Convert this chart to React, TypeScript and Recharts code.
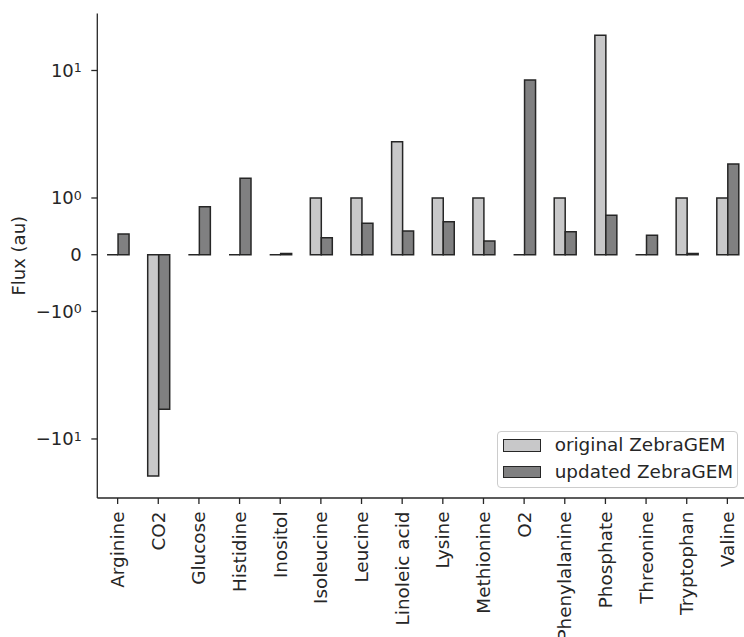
import React from 'react';
import { BarChart, Bar, XAxis, YAxis, Legend } from 'recharts';

const categories = ['Arginine', 'CO2', 'Glucose', 'Histidine', 'Inositol', 'Isoleucine', 'Leucine', 'Linoleic acid', 'Lysine', 'Methionine', 'O2', 'Phenylalanine', 'Phosphate', 'Threonine', 'Tryptophan', 'Valine'];
const originalFlux = [0, -19.5, 0, 0, 0, 1, 1, 2.76, 1, 1, 0, 1, 18.9, 0, 1, 1];
const updatedFlux = [0.365, -5.85, 0.846, 1.43, 0.02, 0.3, 0.553, 0.418, 0.58, 0.24, 8.42, 0.405, 0.694, 0.342, 0.02, 1.85];
const seriesNames = ['original ZebraGEM', 'updated ZebraGEM'];
const seriesColors = ['#c8c8c9', '#808081'];
const yTickValues = [-10, -1, 0, 1, 10];
const yTickBase = ['\u221210', '\u221210', '0', '10', '10'];
const yTickExp = ['1', '0', '', '0', '1'];

const FONT = '"DejaVu Sans", sans-serif';
const INK = '#262626';
const LIN = 0.445;
const FS = 18.4;

const symlog = (v: number) => {
  const a = Math.abs(v);
  const t = a <= 1 ? a * LIN : LIN + Math.log10(a);
  return Math.sign(v) * t;
};

const data = categories.map((name, i) => ({
  name,
  original: symlog(originalFlux[i]),
  updated: symlog(updatedFlux[i]),
}));
const yTicks = yTickValues.map(symlog);

const BarShape = (props: any) => {
  const { x, y, width, height, fill } = props;
  if (x == null || y == null) return null;
  let yy = y;
  let h = height || 0;
  if (h < 0) {
    yy = y + h;
    h = -h;
  }
  const d = `M${x},${yy}h${width}v${h}h${-width}Z`;
  return <path d={d} fill={fill} stroke={INK} strokeWidth={1.5} />;
};

const XTick = (props: any) => {
  const { x, y, payload } = props;
  return (
    <g transform={`translate(${x},${y})`}>
      <line x1={0} x2={0} y1={0} y2={6} stroke={INK} strokeWidth={1.3} />
      <text
        transform="rotate(-90)"
        x={-13.5}
        y={0}
        dy="0.35em"
        textAnchor="end"
        fontFamily={FONT}
        fontSize={FS}
        fill={INK}
      >
        {payload.value}
      </text>
    </g>
  );
};

const YTick = (props: any) => {
  const { x, y, payload } = props;
  let idx = 0;
  let best = Infinity;
  yTicks.forEach((t, i) => {
    const d = Math.abs(t - payload.value);
    if (d < best) {
      best = d;
      idx = i;
    }
  });
  const exp = yTickExp[idx];
  return (
    <g transform={`translate(${x},${y})`}>
      <line x1={-6} x2={0} y1={0} y2={0} stroke={INK} strokeWidth={1.3} />
      <text x={-15.5} y={0} dy="0.36em" textAnchor="end" fontFamily={FONT} fontSize={18} fill={INK}>
        {yTickBase[idx]}
        {exp ? (
          <tspan dy={-4.5} fontSize={12.6}>
            {exp}
          </tspan>
        ) : null}
      </text>
    </g>
  );
};

const LegendBox = () => (
  <div
    style={{
      boxSizing: 'border-box',
      width: 241.6,
      height: 57.6,
      border: '1px solid #cccccc',
      borderRadius: 4,
      background: 'rgba(255,255,255,0.85)',
      position: 'relative',
      fontFamily: FONT,
      fontSize: FS,
      color: INK,
    }}
  >
    {seriesNames.map((n, i) => (
      <React.Fragment key={n}>
        <div
          style={{
            position: 'absolute',
            left: 5,
            top: 7.3 + i * 26.7,
            width: 38,
            height: 12.7,
            boxSizing: 'border-box',
            background: seriesColors[i],
            border: `1.5px solid ${INK}`,
          }}
        />
        <div
          style={{
            position: 'absolute',
            left: 57,
            top: 13.3 + i * 26.7,
            transform: 'translateY(-50%)',
            whiteSpace: 'nowrap',
            lineHeight: 1,
          }}
        >
          {n}
        </div>
      </React.Fragment>
    ))}
  </div>
);

export default function App() {
  return (
    <div style={{ position: 'fixed', left: 0, top: 0, width: 744, height: 637, overflow: 'hidden', background: '#fff' }}>
      <BarChart
        width={760}
        height={637}
        data={data}
        margin={{ top: 13.5, right: 12.3, bottom: 0, left: 0 }}
        barCategoryGap="24%"
        barGap={0}
      >
        <XAxis
          dataKey="name"
          height={139}
          interval={0}
          tickLine={false}
          tickSize={0}
          tickMargin={0}
          axisLine={{ stroke: INK, strokeWidth: 1.3 }}
          tick={<XTick />}
        />
        <XAxis
          xAxisId="top"
          dataKey="name"
          orientation="top"
          height={0}
          tick={false}
          tickLine={false}
          axisLine={{ stroke: INK, strokeWidth: 1.3 }}
        />
        <YAxis
          type="number"
          width={97.3}
          domain={[-1.908, 1.892]}
          allowDataOverflow
          ticks={yTicks}
          interval={0}
          tickLine={false}
          tickSize={0}
          tickMargin={0}
          axisLine={{ stroke: INK, strokeWidth: 1.3 }}
          tick={<YTick />}
          label={{
            value: 'Flux (au)',
            angle: -90,
            position: 'insideLeft',
            dx: 14,
            style: { fontFamily: FONT, fontSize: 18, fill: INK, textAnchor: 'middle' },
          }}
        />
        <Legend
          layout="vertical"
          align="center"
          verticalAlign="middle"
          content={<LegendBox />}
          wrapperStyle={{ left: 496.7, top: 430.7, width: 241.6, height: 57.6, right: 'auto', bottom: 'auto' }}
        />
        <Bar dataKey="original" name={seriesNames[0]} fill={seriesColors[0]} shape={<BarShape />} isAnimationActive={false} />
        <Bar dataKey="updated" name={seriesNames[1]} fill={seriesColors[1]} shape={<BarShape />} isAnimationActive={false} />
      </BarChart>
    </div>
  );
}
